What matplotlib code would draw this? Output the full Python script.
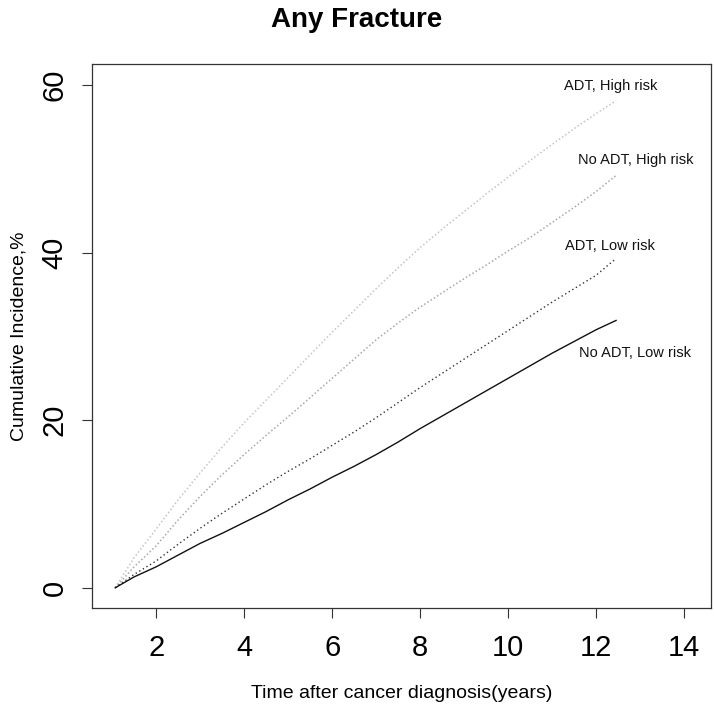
import matplotlib
matplotlib.use("Agg")
import matplotlib.pyplot as plt

plt.rcParams["font.family"] = ["Liberation Sans", "DejaVu Sans"]

# cumulative incidence (%), years after diagnosis
years = [1.07, 1.5, 2.0, 2.5, 3.0, 3.5, 4.0, 4.5, 5.0, 5.5, 6.0, 6.5, 7.0,
         7.5, 8.0, 8.5, 9.0, 9.5, 10.0, 10.5, 11.0, 11.5, 12.0, 12.45]
no_adt_low = [0.0, 1.3, 2.5, 3.9, 5.3, 6.5, 7.8, 9.1, 10.5, 11.8, 13.2, 14.5,
              15.9, 17.4, 19.0, 20.5, 22.0, 23.5, 25.0, 26.5, 28.0, 29.4, 30.8, 31.9]
adt_low = [0.0, 1.6, 3.2, 5.2, 7.1, 8.9, 10.6, 12.3, 13.9, 15.4, 17.0, 18.6,
           20.3, 22.1, 23.9, 25.6, 27.3, 29.0, 30.7, 32.4, 34.1, 35.7, 37.3, 39.3]
no_adt_high = [0.0, 2.5, 5.0, 8.1, 10.9, 13.5, 15.9, 18.2, 20.4, 22.7, 25.0, 27.3,
               29.6, 31.6, 33.5, 35.2, 36.9, 38.5, 40.2, 41.8, 43.6, 45.4, 47.3, 49.2]
adt_high = [0.0, 3.6, 7.0, 10.5, 13.7, 16.8, 19.7, 22.4, 25.1, 27.8, 30.5, 33.1,
            35.7, 38.2, 40.6, 42.8, 44.9, 47.0, 49.0, 51.0, 52.9, 54.8, 56.6, 58.1]

labels = ["ADT, High risk", "No ADT, High risk", "ADT, Low risk", "No ADT, Low risk"]
label_x = [12.32, 12.89, 12.32, 12.89]
label_y = [59.9, 51.0, 40.8, 28.0]

fig = plt.figure(figsize=(7.14, 7.11), dpi=100)
ax = fig.add_axes([0.129, 0.145, 0.867, 0.765])

ax.plot(years, adt_high, color="#c4c4c4", linestyle=(0, (1, 1.5)), linewidth=1.1)
ax.plot(years, no_adt_high, color="#a8a8a8", linestyle=(0, (1, 1.5)), linewidth=1.1)
ax.plot(years, adt_low, color="#333333", linestyle=(0, (1, 2)), linewidth=1.0)
ax.plot(years, no_adt_low, color="#111111", linestyle="-", linewidth=1.0)

for txt, x, y in zip(labels, label_x, label_y):
    ax.text(x, y, txt, ha="center", va="center", fontsize=10.5, color="#111111")

ax.set_xlim(0.545, 14.61)
ax.set_ylim(-2.4, 62.5)
ax.set_xticks([2, 4, 6, 8, 10, 12, 14])
ax.set_yticks([0, 20, 40, 60])
ax.tick_params(axis="both", direction="out", length=7, width=0.8,
               labelsize=21, color="#333333")
ax.tick_params(axis="x", pad=12)
ax.tick_params(axis="y", pad=10)
for lab in ax.get_yticklabels():
    lab.set_rotation(90)
    lab.set_va("center")
for s in ax.spines.values():
    s.set_color("#333333")
    s.set_linewidth(0.9)

ax.set_xlabel("Time after cancer diagnosis(years)", fontsize=14, labelpad=16)
ax.set_ylabel("Cumulative Incidence,%", fontsize=14, labelpad=9)
fig.suptitle("Any Fracture", fontsize=20, fontweight="bold", y=0.99)

fig.savefig("out.png", dpi=100)
